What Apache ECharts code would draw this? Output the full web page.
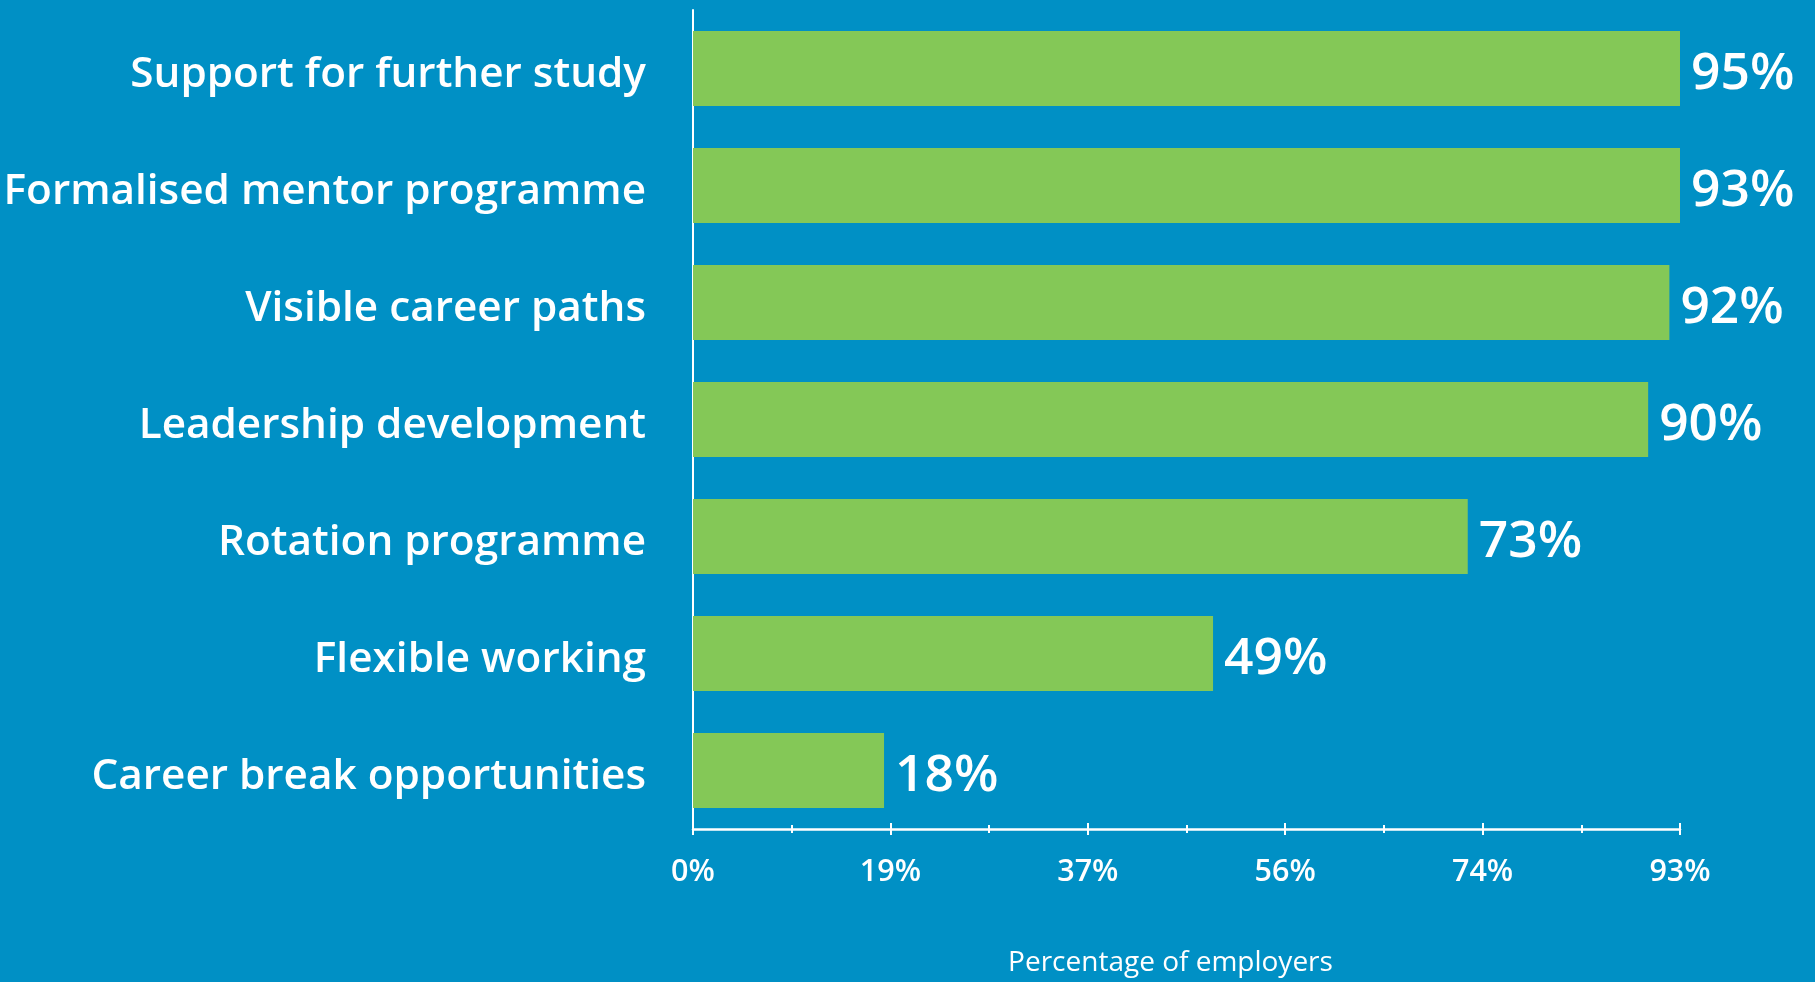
<!DOCTYPE html>
<html>
<head>
<meta charset="utf-8">
<title>Percentage of employers</title>
<script src="https://cdn.jsdelivr.net/npm/echarts@6/dist/echarts.min.js"></script>
<style>
  html, body { margin: 0; padding: 0; background: #0090c5; }
  #chart { width: 1815px; height: 982px; }
</style>
</head>
<body>
<div id="chart"></div>
<script>
// Development offerings, top to bottom
const categories = [
  'Support for further study',
  'Formalised mentor programme',
  'Visible career paths',
  'Leadership development',
  'Rotation programme',
  'Flexible working',
  'Career break opportunities'
];
// Share of employers offering each, in percent
const values = [95, 93, 92, 90, 73, 49, 18];
// Value axis runs 0 to 93 in five equal steps
const axisMax = 93;
const axisStep = 18.6;
const axisTitle = 'Percentage of employers';

const WHITE = '#ffffff';
const FONT = '"Open Sans", "Noto Sans", sans-serif';

const chart = echarts.init(document.getElementById('chart'), null, { renderer: 'canvas' });

const sharedValueAxis = {
  type: 'value',
  min: 0,
  max: axisMax,
  interval: axisStep,
  position: 'bottom',
  splitLine: { show: false }
};

chart.setOption({
  backgroundColor: '#0090c5',
  animation: false,
  grid: { left: 693, right: 135, top: 10, bottom: 151, containLabel: false },
  xAxis: [
    Object.assign({}, sharedValueAxis, {
      axisLine: { show: true, lineStyle: { color: WHITE, width: 2.5 } },
      axisTick: { show: true, inside: false, length: 6, lineStyle: { color: WHITE, width: 2 } },
      minorTick: { show: true, splitNumber: 2, length: 4, lineStyle: { color: WHITE, width: 2 } },
      axisLabel: {
        color: WHITE, fontFamily: FONT, fontSize: 30.5, fontWeight: 600, margin: 28,
        formatter: v => Math.round(v) + '%'
      },
      name: axisTitle,
      nameLocation: 'middle',
      nameGap: 120,
      nameTextStyle: { color: WHITE, fontFamily: FONT, fontSize: 28, fontWeight: 400, padding: [0, 32, 0, 0] }
    }),
    // Same scale again, drawing the upper halves of the tick marks
    Object.assign({}, sharedValueAxis, {
      axisLine: { show: false },
      axisTick: { show: true, inside: true, length: 6, lineStyle: { color: WHITE, width: 2 } },
      minorTick: { show: true, splitNumber: 2, length: 4, lineStyle: { color: WHITE, width: 2 } },
      axisLabel: { show: false }
    })
  ],
  yAxis: {
    type: 'category',
    data: categories,
    inverse: true,
    axisLine: { show: true, lineStyle: { color: WHITE, width: 2 } },
    axisTick: { show: false },
    axisLabel: {
      color: WHITE, fontFamily: FONT, fontSize: 42.3, fontWeight: 600, margin: 47,
      // a short line box hung from the band centre sets the text a little low
      verticalAlign: 'top',
      lineHeight: 12
    }
  },
  series: [{
    type: 'bar',
    xAxisIndex: 0,
    data: values,
    barCategoryGap: '36%',
    clip: true,
    itemStyle: { color: '#84c857' },
    label: {
      show: true,
      position: 'right',
      distance: 11,
      offset: [0, 6],
      color: WHITE,
      fontFamily: FONT,
      fontSize: 51.5,
      fontWeight: 600,
      formatter: p => p.value + '%'
    }
  }]
});
</script>
</body>
</html>
